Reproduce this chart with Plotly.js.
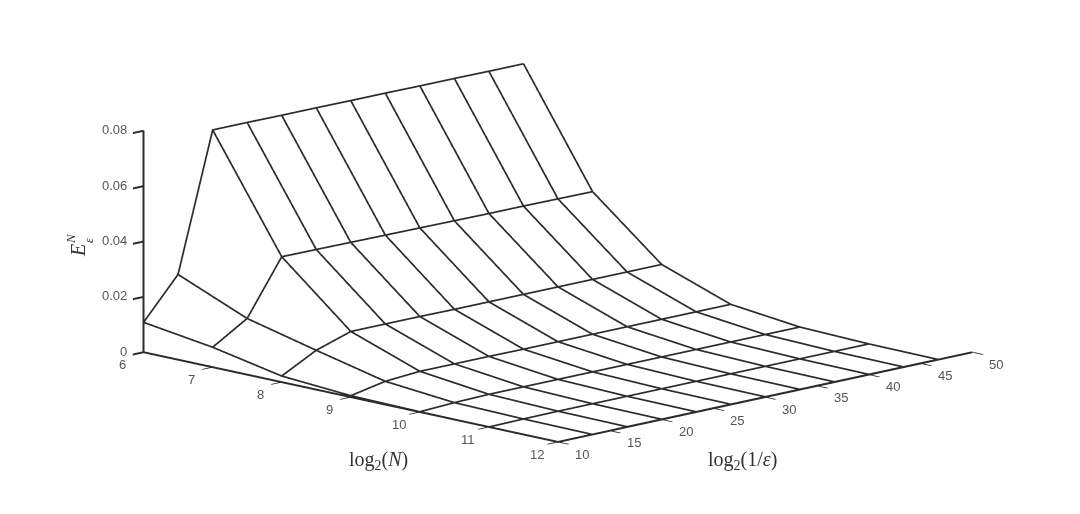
<!DOCTYPE html>
<html><head><meta charset="utf-8">
<script src="https://cdn.plot.ly/plotly-3.0.1.min.js"></script>
<style>html,body{margin:0;padding:0;background:#fff}#g{width:1080px;height:514px}</style></head>
<body><div id="g"></div>
<script>
const logN = [6,7,8,9,10,11,12];
const logEps = [10,13.33,16.67,20,23.33,26.67,30,33.33,36.67,40,43.33,46.67];
const E6  = [0.0108,0.0254,0.0749,0.0749,0.0748,0.0748,0.0747,0.0747,0.0746,0.0746,0.0745,0.0745];
const E7  = [0.0072,0.0149,0.0345,0.0344,0.0343,0.0342,0.0341,0.0340,0.0339,0.0339,0.0338,0.0337];
const E8  = [0.0022,0.0088,0.0129,0.0129,0.0129,0.0128,0.0128,0.0128,0.0128,0.0128,0.0128,0.0128];
const E9  = [0.0005,0.0030,0.0039,0.0039,0.0039,0.0038,0.0038,0.0038,0.0038,0.0038,0.0038,0.0038];
const E10 = [0.0001,0.0007,0.0010,0.0010,0.0010,0.0010,0.0010,0.0010,0.0010,0.0010,0.0010,0.0010];
const E11 = [0.0000,0.0002,0.0003,0.0003,0.0003,0.0003,0.0003,0.0003,0.0003,0.0003,0.0003,0.0003];
const E12 = [0.0000,0.0000,0.0001,0.0001,0.0001,0.0001,0.0001,0.0001,0.0001,0.0001,0.0001,0.0001];
const rows = [E6,E7,E8,E9,E10,E11,E12];
const xTicks=[6,7,8,9,10,11,12], yTicks=[10,15,20,25,30,35,40,45,50], zTicks=[0,0.02,0.04,0.06,0.08];
const zTickText=['0','0.02','0.04','0.06','0.08'];

const LINE='#2b2b2b', TXT='#555555';
const data=[];
rows.forEach((r,i)=>data.push({type:'scatter3d',mode:'lines',x:r.map(()=>logN[i]),y:logEps,z:r,
  line:{color:LINE,width:3.4},hoverinfo:'skip',showlegend:false}));
logEps.forEach((e,j)=>data.push({type:'scatter3d',mode:'lines',x:logN,y:rows.map(()=>e),z:rows.map(r=>r[j]),
  line:{color:LINE,width:3.4},hoverinfo:'skip',showlegend:false}));

const ax=(rng,ticks,txt)=>({range:rng,autorange:false,tickmode:'array',tickvals:ticks,ticktext:txt||ticks.map(String),
  showbackground:false,showgrid:false,zeroline:false,showline:true,linecolor:LINE,linewidth:4,ticks:'outside',ticklen:15,tickwidth:4,tickcolor:LINE,
  showticklabels:false,showspikes:false,title:{text:''}});
const th=12.5*Math.PI/180,d=5,k=2.427;
const sceneAnn=[];
const tf={family:'Liberation Sans, Arial',size:13,color:TXT};
xTicks.forEach(v=>sceneAnn.push({x:v,y:10,z:0,text:String(v),showarrow:false,font:tf,xshift:-21,yshift:-12}));
yTicks.forEach(v=>sceneAnn.push({x:12,y:v,z:0,text:String(v),showarrow:false,font:tf,xshift:24,yshift:-12}));
zTicks.forEach((v,i)=>sceneAnn.push({x:6,y:10,z:v,text:zTickText[i],showarrow:false,font:tf,xanchor:'right',xshift:-15,yshift:1}));
const serif=s=>({family:'Liberation Serif',size:s,color:'#333'});
const pa=(x,y,text,size,angle)=>({xref:'paper',yref:'paper',x:x/1080,y:1-y/514,xanchor:'center',yanchor:'middle',showarrow:false,text,font:serif(size),textangle:angle||0});
const layout={width:1080,height:514,margin:{l:0,r:0,t:0,b:0},paper_bgcolor:'#fff',showlegend:false,
 scene:{domain:{x:[0.0333,1],y:[0.06,1]},aspectmode:'manual',aspectratio:{x:k,y:k,z:0.387*k},
  camera:{projection:{type:'orthographic'},center:{x:0,y:0,z:0},up:{x:0,y:0,z:1},
    eye:{x:d*Math.cos(th)/Math.SQRT2,y:-d*Math.cos(th)/Math.SQRT2,z:d*Math.sin(th)}},
  xaxis:ax([6,12],xTicks),yaxis:ax([10,50],yTicks),zaxis:ax([0,0.08],zTicks,zTickText),annotations:sceneAnn},
 annotations:[
  pa(378,460,'log<sub>2</sub>(<i>N</i>)',20),
  pa(742,460,'log<sub>2</sub>(1/<i>ε</i>)',20),
  pa(78,250,'<i>E</i>',20,-90),
  pa(70,239,'<i>N</i>',13,-90),
  pa(88,240,'<i>ε</i>',13,-90)
 ]};
Plotly.newPlot('g',data,layout,{displayModeBar:false});
</script></body></html>
